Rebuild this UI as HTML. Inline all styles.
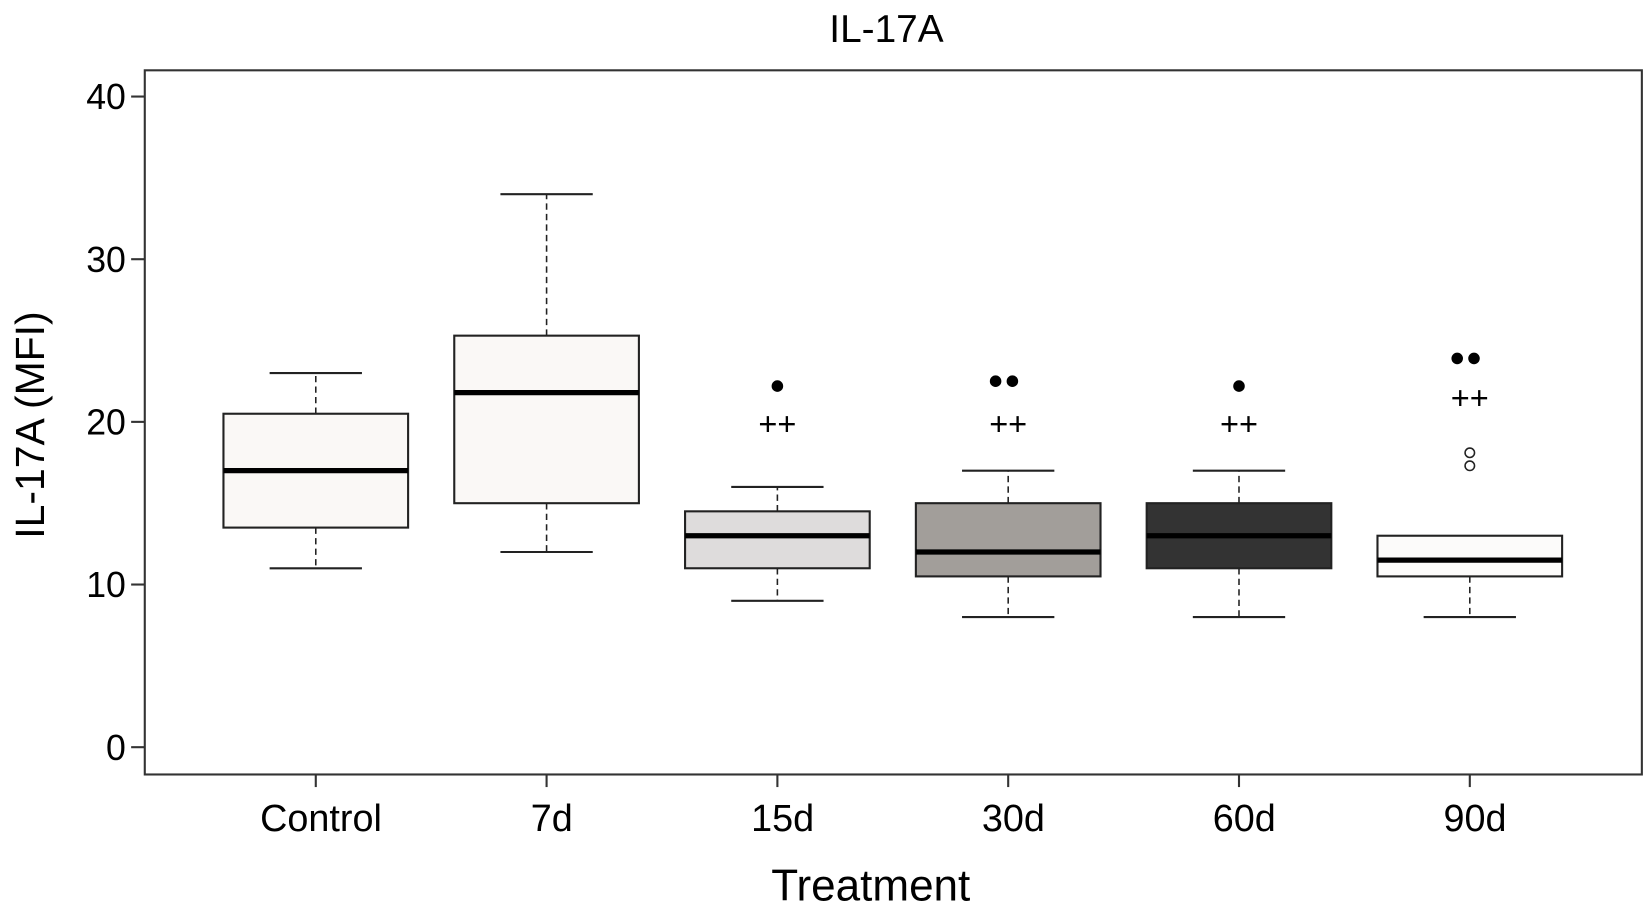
<!DOCTYPE html>
<html><head><meta charset="utf-8"><style>body{margin:0;background:#fff}svg{display:block}</style></head>
<body>
<svg id="chart" width="1645" height="913" viewBox="0 0 1568 870" preserveAspectRatio="none" xmlns="http://www.w3.org/2000/svg" font-family="Liberation Sans, sans-serif"></svg>
<script>
const categories=["Control","7d","15d","30d","60d","90d"];
const whiskerLow=[11,12,9,8,8,8];
const q1=[13.5,15,11,10.5,11,10.5];
const medians=[17,21.8,13,12,13,11.5];
const q3=[20.5,25.3,14.5,15,15,13];
const whiskerHigh=[23,34,16,17,17,10.5];
const fills=["#faf8f6","#faf8f6","#dedcdc","#a29e9a","#333333","#fcfbfa"];
const outliers=[[],[],[],[],[],[17.3,18.1]];
const dotCounts=[0,0,1,2,1,2];
const dotValues=[0,0,22.2,22.5,22.2,23.9];
const plusValues=[null,null,19.9,19.9,19.9,21.5];
const yTicks=[0,10,20,30,40];
const svg=document.getElementById('chart');const NS="http://www.w3.org/2000/svg";
const y=v=>712-v*15.5; const x=i=>301+i*220; const bw=176;
function mk(t,a,p){const e=document.createElementNS(NS,t);for(const k in a)e.setAttribute(k,a[k]);(p||svg).appendChild(e);return e;}
let e;
e=mk('rect',{x:138,y:67,width:1427,height:671,fill:'none',stroke:'#333','stroke-width':2});


e=mk('text',{x:845,y:40,'font-size':37,'text-anchor':'middle'});e.textContent='IL-17A';


e=mk('text',{x:830,y:858,'font-size':42,'text-anchor':'middle'});e.textContent='Treatment';


e=mk('text',{transform:'translate(42,405) rotate(-90)','font-size':39,'text-anchor':'middle'});e.textContent='IL-17A (MFI)';


yTicks.forEach(v=>{
 e=mk('line',{x1:125,x2:138,y1:y(v),y2:y(v),stroke:'#333','stroke-width':2});
 
 
 e=mk('text',{x:120,y:y(v)+12,'font-size':34,'text-anchor':'end'});e.textContent=v;
 
 
});
categories.forEach((c,i)=>{
 const cx=x(i);
 e=mk('line',{x1:cx,x2:cx,y1:738,y2:750,stroke:'#333','stroke-width':2});
 
 
 e=mk('text',{x:cx+5,y:792,'font-size':36,'text-anchor':'middle'});e.textContent=c;
 
 
 const g=mk('g',{});
 
 
 if(whiskerHigh[i]>q3[i]){mk('line',{x1:cx,x2:cx,y1:y(q3[i]),y2:y(whiskerHigh[i]),stroke:'#222','stroke-width':1.5,'stroke-dasharray':'6,4'},g);
  mk('line',{x1:cx-44,x2:cx+44,y1:y(whiskerHigh[i]),y2:y(whiskerHigh[i]),stroke:'#222','stroke-width':2},g);}
 mk('line',{x1:cx,x2:cx,y1:y(q1[i]),y2:y(whiskerLow[i]),stroke:'#222','stroke-width':1.5,'stroke-dasharray':'6,4'},g);
 mk('line',{x1:cx-44,x2:cx+44,y1:y(whiskerLow[i]),y2:y(whiskerLow[i]),stroke:'#222','stroke-width':2},g);
 mk('rect',{x:cx-bw/2,y:y(q3[i]),width:bw,height:y(q1[i])-y(q3[i]),fill:fills[i],stroke:'#222','stroke-width':2},g);
 mk('line',{x1:cx-bw/2,x2:cx+bw/2,y1:y(medians[i]),y2:y(medians[i]),stroke:'#000','stroke-width':5},g);
 outliers[i].forEach(v=>{e=mk('circle',{cx:cx,cy:y(v),r:4.5,fill:'none',stroke:'#222','stroke-width':1.5});
  
  });
 for(let k=0;k<dotCounts[i];k++){const off=dotCounts[i]==2?(k?4:-12):0;
  e=mk('circle',{cx:cx+off,cy:y(dotValues[i]),r:5.5,fill:'#000'});
  
  }
 if(plusValues[i]!==null){e=mk('text',{x:cx,y:y(plusValues[i])+11,'font-size':31,'text-anchor':'middle'});e.textContent='++';
  
  }
});
</script>
</body></html>
